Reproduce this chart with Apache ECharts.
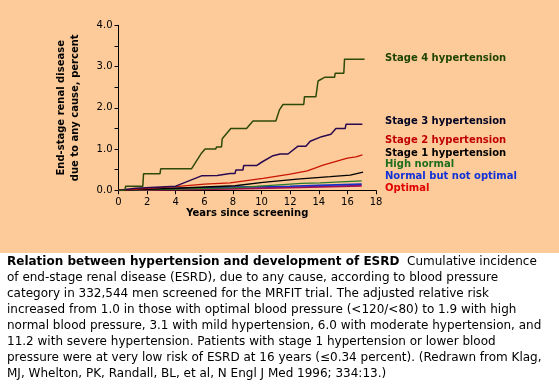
<!DOCTYPE html>
<html><head><meta charset="utf-8">
<script src="https://cdn.jsdelivr.net/npm/echarts@6/dist/echarts.min.js"></script>
<style>html,body{margin:0;padding:0;background:#fff}#c{width:559px;height:384px}</style>
</head><body><div id="c"></div>
<script>
var seriesNames = ["Stage 4 hypertension","Stage 3 hypertension","Stage 2 hypertension","Stage 1 hypertension","High normal","Normal but not optimal","Optimal"];
var stage4X = [0,0.45,0.5,1.7,1.75,2.9,2.95,5.1,5.8,6.05,6.8,6.85,7.2,7.25,7.85,8.95,9.4,11.0,11.25,11.5,12.95,13.0,13.8,13.95,14.4,15.1,15.15,15.75,15.8,17.2];
var stage4Y = [0,0,0.1,0.1,0.4,0.4,0.52,0.52,0.9,1.0,1.0,1.05,1.05,1.25,1.5,1.5,1.68,1.68,1.95,2.08,2.08,2.27,2.27,2.65,2.74,2.74,2.84,2.84,3.18,3.18];
var stage3X = [0,1.2,4.0,5.8,6.9,7.8,8.15,8.2,8.7,8.75,9.65,10.0,10.8,11.3,11.85,12.55,13.1,13.4,14.2,14.85,15.2,15.85,15.9,17.05];
var stage3Y = [0,0.05,0.1,0.35,0.36,0.41,0.41,0.49,0.49,0.6,0.6,0.68,0.84,0.88,0.88,1.07,1.07,1.19,1.3,1.36,1.5,1.5,1.6,1.6];
var stage2X = [0,1,4,6,7.8,10.1,12,13.2,14.3,16,16.6,17.05];
var stage2Y = [0,0.02,0.09,0.15,0.18,0.29,0.39,0.47,0.61,0.78,0.81,0.86];
var stage1X = [0,2,4,8.15,10.1,12.5,14.8,16.2,17.1];
var stage1Y = [0,0.02,0.05,0.11,0.19,0.27,0.33,0.37,0.44];
var highX = [0,4,8,12.8,14.1,17];
var highY = [0,0.03,0.06,0.17,0.18,0.23];
var normalX = [0,2,4,8,12,14,17];
var normalY = [0,0.03,0.05,0.08,0.1,0.12,0.15];
var optimalX = [0,4,8,12,17];
var optimalY = [0,0.02,0.04,0.07,0.11];
var xTicks = [0,2,4,6,8,10,12,14,16,18];
var yTicks = [0.0,1.0,2.0,3.0,4.0];
var lineColors = ["#2e4a08","#2a0850","#c81400","#000000","#2a7a2a","#1830c8","#a01050"];
var labelColors = ["#1e4400","#000022","#c00000","#000000","#1e6e1e","#1030d8","#e00000"];
var labelY = [59,122,141,154,165,177,189];
var captionLines = [
 ["Relation between hypertension and development of ESRD","  Cumulative incidence"],
 ["","of end-stage renal disease (ESRD), due to any cause, according to blood pressure"],
 ["","category in 332,544 men screened for the MRFIT trial. The adjusted relative risk"],
 ["","increased from 1.0 in those with optimal blood pressure (<120/<80) to 1.9 with high"],
 ["","normal blood pressure, 3.1 with mild hypertension, 6.0 with moderate hypertension, and"],
 ["","11.2 with severe hypertension. Patients with stage 1 hypertension or lower blood"],
 ["","pressure were at very low risk of ESRD at 16 years (\u22640.34 percent). (Redrawn from Klag,"],
 ["","MJ, Whelton, PK, Randall, BL, et al, N Engl J Med 1996; 334:13.)"]
];

function pairs(xs, ys){ return xs.map(function(x,i){ return [x, ys[i]]; }); }
var allX = [stage4X,stage3X,stage2X,stage1X,highX,normalX,optimalX];
var allY = [stage4Y,stage3Y,stage2Y,stage1Y,highY,normalY,optimalY];
var widths = [1.5,1.5,1.3,1.3,1.3,1.6,2];

var series = seriesNames.map(function(n,i){
  return {name:n,type:'line',data:pairs(allX[i],allY[i]),showSymbol:false,
    lineStyle:{color:lineColors[i],width:widths[i]},z:10-i,animation:false};
});

var graphics = [{type:'rect',shape:{x:0,y:0,width:559,height:253},style:{fill:'#FDCB9A'},z:-10,silent:true}];
seriesNames.forEach(function(n,i){
  graphics.push({type:'text',left:385,top:labelY[i]-6,style:{text:n,fill:labelColors[i],font:'bold 10px "DejaVu Sans"'}});
});
captionLines.forEach(function(l,i){
  graphics.push({type:'text',left:7,top:256+i*16,style:{
    text:(l[0]?'{b|'+l[0]+'}':'')+'{n|'+l[1]+'}',
    rich:{b:{font:'bold 12px "DejaVu Sans"',fill:'#000'},n:{font:'12px "DejaVu Sans"',fill:'#000'}}
  }});
});

var chart = echarts.init(document.getElementById('c'));
chart.setOption({
  backgroundColor:'#ffffff',
  animation:false,
  grid:{left:118.5,right:183,top:25.3,bottom:193.7},
  xAxis:{type:'value',min:0,max:18,interval:2,
    name:'Years since screening',nameLocation:'middle',nameGap:17,
    nameTextStyle:{fontFamily:'DejaVu Sans',fontWeight:'bold',fontSize:10,color:'#000'},
    axisLine:{show:true,lineStyle:{color:'#000',width:1}},
    axisTick:{show:true,length:4,lineStyle:{color:'#000'}},
    axisLabel:{color:'#000',fontFamily:'DejaVu Sans',fontSize:10,margin:7,
      formatter:function(v){ return xTicks.indexOf(v)>=0 ? String(v) : ''; }},
    splitLine:{show:false}},
  yAxis:{type:'value',min:0,max:4,interval:0.5,
    name:'End-stage renal disease\ndue to any cause, percent',nameLocation:'middle',nameGap:36,
    nameTextStyle:{fontFamily:'DejaVu Sans',fontWeight:'bold',fontSize:10,color:'#000',lineHeight:14},
    axisLine:{show:true,lineStyle:{color:'#000',width:1}},
    axisTick:{show:true,length:4,lineStyle:{color:'#000'}},
    axisLabel:{color:'#000',fontFamily:'DejaVu Sans',fontSize:10,margin:6,
      formatter:function(v){ return yTicks.indexOf(v)>=0 ? v.toFixed(1) : ''; }},
    splitLine:{show:false}},
  series:series,
  graphic:graphics
});
</script></body></html>
